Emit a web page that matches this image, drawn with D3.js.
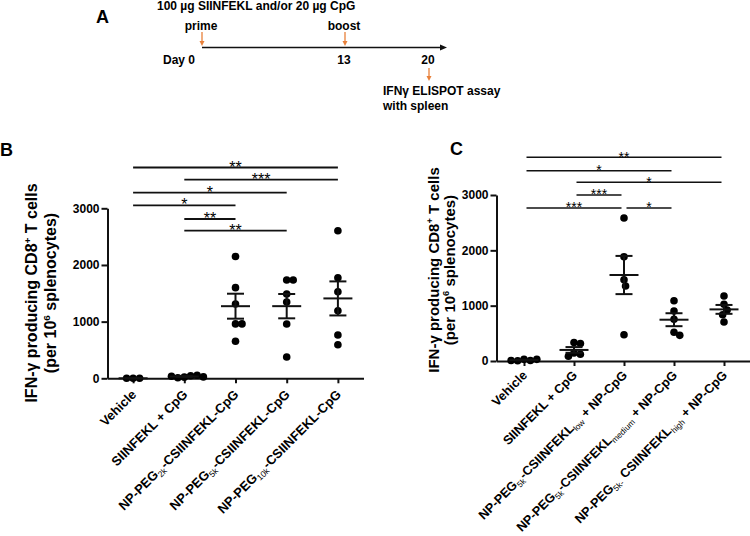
<!DOCTYPE html>
<html><head><meta charset="utf-8">
<script src="https://cdn.jsdelivr.net/npm/d3@7"></script>
<style>
body{margin:0;background:#fff}
svg{display:block}
text{font-family:"Liberation Sans",Arial,sans-serif}
</style>
</head><body>
<svg id="chart" width="750" height="536"></svg>
<script>
// ---------- data ----------
const yTicks = [0, 1000, 2000, 3000];

// Panel A schedule
const scheduleDays = [0, 13, 20];
const scheduleTop = ["prime", "boost"];
const scheduleDayLabels = ["Day 0", "13", "20"];
const doseText = "100 \u00b5g SIINFEKL and/or 20 \u00b5g CpG";
const assayText = ["IFN\u03b3 ELISPOT assay", "with spleen"];

// Panel B
const labelsB = [
  [["Vehicle", 0]],
  [["SIINFEKL + CpG", 0]],
  [["NP-PEG", 0], ["2k", 1], ["-CSIINFEKL-CpG", 0]],
  [["NP-PEG", 0], ["5k", 1], ["-CSIINFEKL-CpG", 0]],
  [["NP-PEG", 0], ["10k", 1], ["-CSIINFEKL-CpG", 0]]
];
const valuesB = [
  [0, 0, 0],
  [20, 45, 10, 35, 55, 25],
  [2150, 1600, 1310, 960, 960, 655],
  [1735, 1735, 1488, 1346, 958, 376],
  [2605, 1775, 1528, 1193, 764, 593]
];
const sigFromB = [0, 1, 0, 0, 1, 1];
const sigToB = [4, 4, 3, 2, 2, 3];
const sigLevelB = [3720, 3505, 3275, 3053, 2811, 2605];
const sigTextB = ["**", "***", "*", "*", "**", "**"];

// Panel C
const labelsC = [
  [["Vehicle", 0]],
  [["SIINFEKL + CpG", 0]],
  [["NP-PEG", 0], ["5k", 1], ["-CSIINFEKL", 0], ["low", 1], [" + NP-CpG", 0]],
  [["NP-PEG", 0], ["5k", 1], ["-CSIINFEKL", 0], ["medium", 1], [" + NP-CpG", 0]],
  [["NP-PEG", 0], ["5k-", 1], [" CSIINFEKL", 0], ["high", 1], [" + NP-CpG", 0]]
];
const valuesC = [
  [30, 10, 5, 10, 30],
  [333, 315, 145, 121, 85],
  [2585, 1885, 1469, 1355, 475],
  [1090, 904, 754, 519, 464],
  [1175, 1025, 922, 837, 705]
];
const sigFromC = [0, 0, 1, 1, 0, 2];
const sigToC = [4, 3, 4, 2, 2, 3];
const sigLevelC = [3682, 3439, 3230, 3000, 2765, 2765];
const sigTextC = ["**", "*", "*", "***", "***", "*"];

// ---------- drawing ----------
const svg = d3.select("#chart");
const ORANGE = "#e8803a";
const FONT = '"Liberation Sans",Arial,sans-serif';

// Panel letters
svg.append("text").attr("x", 96).attr("y", 23).attr("font-size", 18).attr("font-weight", "bold").text("A");
svg.append("text").attr("x", 0).attr("y", 156).attr("font-size", 18).attr("font-weight", "bold").text("B");
svg.append("text").attr("x", 450).attr("y", 155).attr("font-size", 18).attr("font-weight", "bold").text("C");

// ----- Panel A -----
(function () {
  const g = svg.append("g");
  const t = d3.scaleLinear().domain(scheduleDays).range([202, 345, 429]);
  const lineY = 47.5;
  g.append("text").attr("x", 157).attr("y", 10).attr("font-size", 12).attr("font-weight", "bold").text(doseText);
  g.append("line").attr("x1", t(0)).attr("x2", 443).attr("y1", lineY).attr("y2", lineY)
    .attr("stroke", "#111").attr("stroke-width", 1.5);
  g.append("path").attr("d", `M447,${lineY} L440,${lineY - 3} L440,${lineY + 3} Z`).attr("fill", "#111");
  function orangeArrow(x, yA, yB) {
    g.append("line").attr("x1", x).attr("x2", x).attr("y1", yA).attr("y2", yB - 3)
      .attr("stroke", ORANGE).attr("stroke-width", 1.3);
    g.append("path").attr("d", `M${x},${yB} L${x - 2.5},${yB - 5} L${x + 2.5},${yB - 5} Z`).attr("fill", ORANGE);
  }
  scheduleTop.forEach((s, i) => {
    const x = t(scheduleDays[i]);
    g.append("text").attr("x", x - 1).attr("y", 29.5).attr("text-anchor", "middle")
      .attr("font-size", 12).attr("font-weight", "bold").text(s);
    orangeArrow(x, 32, 46);
  });
  scheduleDayLabels.forEach((s, i) => {
    const x = t(scheduleDays[i]);
    g.append("text").attr("x", i === 0 ? x - 7 : x - 1).attr("y", 63.5)
      .attr("text-anchor", i === 0 ? "end" : "middle")
      .attr("font-size", 12).attr("font-weight", "bold").text(s);
  });
  orangeArrow(t(20), 68, 81);
  assayText.forEach((s, i) => {
    g.append("text").attr("x", 383).attr("y", 94.5 + i * 15).attr("font-size", 12)
      .attr("font-weight", "bold").text(s);
  });
})();

// beeswarm offsets (derived from values)
function swarm(ys, d) {
  const off = new Array(ys.length);
  const placed = [];
  ys.forEach((_, i) => {
    const cands = [0];
    placed.forEach(j => {
      const dy = Math.abs(ys[i] - ys[j]);
      if (dy < d) {
        const dx = Math.sqrt(d * d - dy * dy);
        cands.push(off[j] + dx, off[j] - dx);
      }
    });
    cands.sort((a, b) => Math.abs(a) - Math.abs(b));
    for (const c of cands) {
      const ok = placed.every(j => (c - off[j]) ** 2 + (ys[i] - ys[j]) ** 2 >= d * d - 1e-6);
      if (ok) { off[i] = c; break; }
    }
    placed.push(i);
  });
  return off;
}

function drawPanel(o) {
  const g = svg.append("g");
  const y = d3.scaleLinear().domain([0, 3000]).range([o.yZero, o.yTop]);
  const x = d3.scalePoint().domain(d3.range(o.values.length)).range([o.axisX, o.xEnd]).padding(o.pad);

  const ya = g.append("g").attr("transform", `translate(${o.axisX},0)`)
    .call(d3.axisLeft(y).tickValues(yTicks).tickSize(6).tickSizeOuter(0).tickPadding(2).tickFormat(d3.format("d")));
  ya.selectAll("path,line").attr("stroke", "#111").attr("stroke-width", 2);
  ya.selectAll("text").attr("font-size", 12).attr("font-weight", "bold").attr("fill", "#000").attr("font-family", FONT);

  const xa = g.append("g").attr("transform", `translate(0,${o.yZero})`)
    .call(d3.axisBottom(x).tickSize(5).tickSizeOuter(0).tickFormat(""));
  xa.selectAll("path,line").attr("stroke", "#111").attr("stroke-width", 2);

  o.labels.forEach((segs, i) => {
    const tx = g.append("text")
      .attr("transform", `translate(${x(i) + 4},${o.yZero + o.labOff}) rotate(-45)`)
      .attr("text-anchor", "end").attr("font-size", o.labFs).attr("font-weight", "bold");
    let prevSub = 0;
    segs.forEach(([s, sub]) => {
      const ts = tx.append("tspan").text(s);
      if (sub) { ts.attr("font-size", o.labFs * 0.65).attr("font-weight", "normal"); }
      const dy = (sub ? 3 : 0) - (prevSub ? 3 : 0);
      if (dy) ts.attr("dy", dy);
      prevSub = sub;
    });
  });

  const tt1 = g.append("text").attr("transform", `translate(${o.titleX1},${o.titleY}) rotate(-90)`)
    .attr("text-anchor", "middle").attr("font-size", o.titleSize).attr("font-weight", "bold");
  tt1.append("tspan").text("IFN-\u03b3 producing CD8");
  tt1.append("tspan").text("+").attr("dy", -6).attr("font-size", o.titleSize * 0.62);
  tt1.append("tspan").text(" T cells").attr("dy", 6);
  const tt2 = g.append("text").attr("transform", `translate(${o.titleX2},${o.titleY}) rotate(-90)`)
    .attr("text-anchor", "middle").attr("font-size", o.titleSize).attr("font-weight", "bold");
  tt2.append("tspan").text("(per 10");
  tt2.append("tspan").text("6").attr("dy", -6).attr("font-size", o.titleSize * 0.62);
  tt2.append("tspan").text(" splenocytes)").attr("dy", 6);

  o.values.forEach((vals, i) => {
    const ys = vals.map(v => y(v));
    const off = swarm(ys, o.swarmD);
    g.append("g").selectAll("circle").data(vals).join("circle")
      .attr("cx", (d, k) => x(i) + off[k]).attr("cy", d => y(d)).attr("r", 3.8).attr("fill", "#000");
    const m = d3.mean(vals);
    const sem = d3.deviation(vals) / Math.sqrt(vals.length);
    const eg = g.append("g").attr("stroke", "#111").attr("stroke-width", 2);
    eg.append("line").attr("x1", x(i) - 14.5).attr("x2", x(i) + 14.5).attr("y1", y(m)).attr("y2", y(m));
    eg.append("line").attr("x1", x(i)).attr("x2", x(i)).attr("y1", y(m - sem)).attr("y2", y(m + sem));
    eg.append("line").attr("x1", x(i) - 8.5).attr("x2", x(i) + 8.5).attr("y1", y(m - sem)).attr("y2", y(m - sem));
    eg.append("line").attr("x1", x(i) - 8.5).attr("x2", x(i) + 8.5).attr("y1", y(m + sem)).attr("y2", y(m + sem));
  });

  o.sigFrom.forEach((f, k) => {
    const yy = y(o.sigLevel[k]);
    const xa1 = x(f) + o.inset, xa2 = x(o.sigTo[k]) - o.inset;
    g.append("line").attr("x1", xa1).attr("x2", xa2).attr("y1", yy).attr("y2", yy)
      .attr("stroke", "#111").attr("stroke-width", o.sigW);
    g.append("text").attr("x", (xa1 + xa2) / 2).attr("y", yy + o.starFs * 0.416 - 1.5)
      .attr("text-anchor", "middle").attr("font-size", o.starFs).text(o.sigText[k]);
  });
}

drawPanel({
  values: valuesB, labels: labelsB,
  sigFrom: sigFromB, sigTo: sigToB, sigLevel: sigLevelB, sigText: sigTextB,
  axisX: 107.5, xEnd: 363.5, pad: 0.5, yZero: 378.3, yTop: 208.3,
  titleX1: 37, titleX2: 56, titleY: 293, titleSize: 16,
  swarmD: 6.5, inset: 0, sigW: 1.8, starFs: 16, labFs: 13, labOff: 17
});
drawPanel({
  values: valuesC, labels: labelsC,
  sigFrom: sigFromC, sigTo: sigToC, sigLevel: sigLevelC, sigText: sigTextC,
  axisX: 496.5, xEnd: 751.5, pad: 0.55, yZero: 361, yTop: 195,
  titleX1: 439, titleX2: 455, titleY: 270, titleSize: 15,
  swarmD: 6.5, inset: 2.5, sigW: 1.4, starFs: 14, labFs: 12.7, labOff: 15
});
</script>
</body></html>
